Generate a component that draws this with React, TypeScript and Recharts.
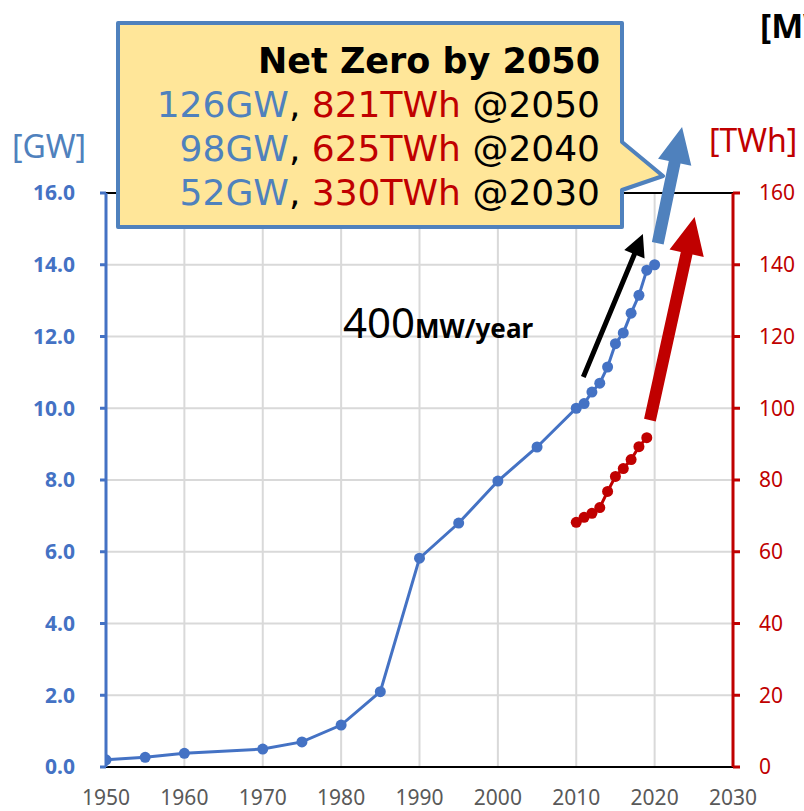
import React from "react"
import {
    LineChart,
    Line,
    XAxis,
    YAxis,
    CartesianGrid,
    ReferenceLine
} from "recharts"

const years = [
    1950, 1955, 1960, 1970, 1975, 1980, 1985, 1990, 1995, 2000, 2005, 2010,
    2011, 2012, 2013, 2014, 2015, 2016, 2017, 2018, 2019, 2020
]
const capacityGW = [
    0.2, 0.27, 0.38, 0.5, 0.7, 1.17, 2.1, 5.82, 6.8, 7.97, 8.92, 10.0, 10.13,
    10.45, 10.7, 11.15, 11.8, 12.1, 12.65, 13.15, 13.85, 14.0
]
const energyYears = [2010, 2011, 2012, 2013, 2014, 2015, 2016, 2017, 2018, 2019]
const energyTWh = [68.2, 69.6, 70.7, 72.3, 76.8, 81.0, 83.2, 85.7, 89.3, 91.8]

const yearTicks = [1950, 1960, 1970, 1980, 1990, 2000, 2010, 2020, 2030]
const gwTicks = [0, 2, 4, 6, 8, 10, 12, 14, 16]
const twhTicks = [0, 20, 40, 60, 80, 100, 120, 140, 160]

const calloutTitle = "Net Zero by 2050"
const calloutGW = ["126GW", "98GW", "52GW"]
const calloutTWh = ["821TWh", "625TWh", "330TWh"]
const calloutYear = ["@2050", "@2040", "@2030"]

// arrows: [tail, tip] in data units
const trendArrow = [
    { x: 2010.9, y: 10.87 },
    { x: 2018.5, y: 14.86 }
]
const gwArrow = [
    { x: 2020.4, y: 14.6 },
    { x: 2023.5, y: 17.84 }
]
const twhArrow = [
    { x: 2019.4, y: 96.7 },
    { x: 2025.1, y: 153.3 }
]

const BLUE = "#4472c4"
const RED = "#c00000"
const ARROW_BLUE = "#4f81bd"
const GRID = "#d9d9d9"

const chartData = years.map((year, i) => {
    const k = energyYears.indexOf(year)
    return {
        year,
        gw: capacityGW[i],
        twh: k >= 0 ? energyTWh[k] : undefined
    }
})

function arrowShape(color: string, shaft: number, headLen: number, headW: number) {
    return (p: any) => {
        const { x1, y1, x2, y2 } = p
        if (![x1, y1, x2, y2].every((v) => Number.isFinite(v))) return <g />
        const dx = x2 - x1
        const dy = y2 - y1
        const len = Math.hypot(dx, dy)
        const ux = dx / len
        const uy = dy / len
        const nx = -uy
        const ny = ux
        const bx = x2 - ux * headLen
        const by = y2 - uy * headLen
        const pts = [
            [x1 + (nx * shaft) / 2, y1 + (ny * shaft) / 2],
            [bx + (nx * shaft) / 2, by + (ny * shaft) / 2],
            [bx + (nx * headW) / 2, by + (ny * headW) / 2],
            [x2, y2],
            [bx - (nx * headW) / 2, by - (ny * headW) / 2],
            [bx - (nx * shaft) / 2, by - (ny * shaft) / 2],
            [x1 - (nx * shaft) / 2, y1 - (ny * shaft) / 2]
        ]
        return (
            <polygon
                points={pts.map((q) => q.join(",")).join(" ")}
                fill={color}
            />
        )
    }
}

const tickFont = "'Noto Sans', sans-serif"

export default function App() {
    return (
        <div
            style={{
                position: "absolute",
                left: 0,
                top: 0,
                width: 804,
                height: 811,
                background: "#fff"
            }}
        >
            <LineChart
                width={804}
                height={811}
                data={chartData}
                margin={{ top: 193, right: 0, bottom: 0, left: 0 }}
            >
                <CartesianGrid stroke={GRID} strokeWidth={2} yAxisId="left" />
                <XAxis
                    dataKey="year"
                    type="number"
                    domain={[1950, 2030]}
                    ticks={yearTicks}
                    height={44}
                    axisLine={{ stroke: "#000", strokeWidth: 2 }}
                    tickLine={false}
                    tickSize={0}
                    tickMargin={23}
                    tick={{ fill: "#595959", fontSize: 21, fontFamily: tickFont }}
                    allowDataOverflow
                />
                <YAxis
                    yAxisId="left"
                    orientation="left"
                    domain={[0, 16]}
                    ticks={gwTicks}
                    width={106}
                    tickFormatter={(v: number) => v.toFixed(1)}
                    axisLine={{ stroke: BLUE, strokeWidth: 3 }}
                    tickLine={{ stroke: BLUE, strokeWidth: 3 }}
                    tickSize={6}
                    tickMargin={25}
                    tick={{
                        fill: BLUE,
                        fontSize: 21,
                        fontWeight: 700,
                        fontFamily: tickFont
                    }}
                    allowDataOverflow
                />
                <YAxis
                    yAxisId="right"
                    orientation="right"
                    domain={[0, 160]}
                    ticks={twhTicks}
                    width={71}
                    axisLine={{ stroke: RED, strokeWidth: 3 }}
                    tickLine={{ stroke: RED, strokeWidth: 3 }}
                    tickSize={7}
                    tickMargin={19}
                    tick={{ fill: RED, fontSize: 21, fontFamily: tickFont }}
                    allowDataOverflow
                />
                <ReferenceLine
                    yAxisId="left"
                    y={16}
                    stroke="#000"
                    strokeWidth={2}
                />
                <Line
                    yAxisId="left"
                    dataKey="gw"
                    stroke={BLUE}
                    strokeWidth={3}
                    dot={{ r: 5.5, fill: BLUE, stroke: BLUE, strokeWidth: 0 }}
                    isAnimationActive={false}
                />
                <Line
                    yAxisId="right"
                    dataKey="twh"
                    stroke={RED}
                    strokeWidth={3}
                    dot={{ r: 5.5, fill: RED, stroke: RED, strokeWidth: 0 }}
                    isAnimationActive={false}
                />
                <ReferenceLine
                    yAxisId="left"
                    segment={trendArrow}
                    ifOverflow="visible"
                    shape={arrowShape("#000", 5, 22, 22)}
                />
                <ReferenceLine
                    yAxisId="left"
                    segment={gwArrow}
                    ifOverflow="visible"
                    shape={arrowShape(ARROW_BLUE, 12, 36, 34)}
                />
                <ReferenceLine
                    yAxisId="right"
                    segment={twhArrow}
                    ifOverflow="visible"
                    shape={arrowShape(RED, 12, 37, 35)}
                />
            </LineChart>
            <svg
                width={804}
                height={811}
                style={{ position: "absolute", left: 0, top: 0, pointerEvents: "none" }}
            >
                <path
                    d="M118,23 H622 V142 L663,176 L622,190 V227 H118 Z"
                    fill="#ffe699"
                    stroke={ARROW_BLUE}
                    strokeWidth={4}
                    strokeLinejoin="round"
                />
                <text
                    x={600}
                    y={73}
                    textAnchor="end"
                    fontFamily="'DejaVu Sans', sans-serif"
                    fontWeight={700}
                    fontSize={35}
                    fill="#000"
                >
                    {calloutTitle}
                </text>
                {calloutGW.map((g, i) => (
                    <text
                        key={g}
                        x={600}
                        y={117 + i * 44}
                        textAnchor="end"
                        fontFamily="'DejaVu Sans', sans-serif"
                        fontSize={36}
                    >
                        <tspan fill={ARROW_BLUE}>{g}</tspan>
                        <tspan fill="#000">, </tspan>
                        <tspan fill={RED}>{calloutTWh[i]}</tspan>
                        <tspan fill="#000"> {calloutYear[i]}</tspan>
                    </text>
                ))}
                <text
                    x={343}
                    y={338}
                    fontFamily={tickFont}
                    fill="#000"
                >
                    <tspan fontSize={42}>400</tspan>
                    <tspan fontSize={26} fontWeight={700}>
                        MW/year
                    </tspan>
                </text>
                <text
                    x={12}
                    y={158}
                    fontFamily={tickFont}
                    fontSize={32}
                    fill={ARROW_BLUE}
                >
                    [GW]
                </text>
                <text
                    x={709}
                    y={152}
                    fontFamily={tickFont}
                    fontSize={32}
                    fill={RED}
                >
                    [TWh]
                </text>
                <text
                    x={760}
                    y={38}
                    fontFamily={tickFont}
                    fontSize={34}
                    fontWeight={700}
                    fill="#000"
                >
                    [MW]
                </text>
            </svg>
        </div>
    )
}
